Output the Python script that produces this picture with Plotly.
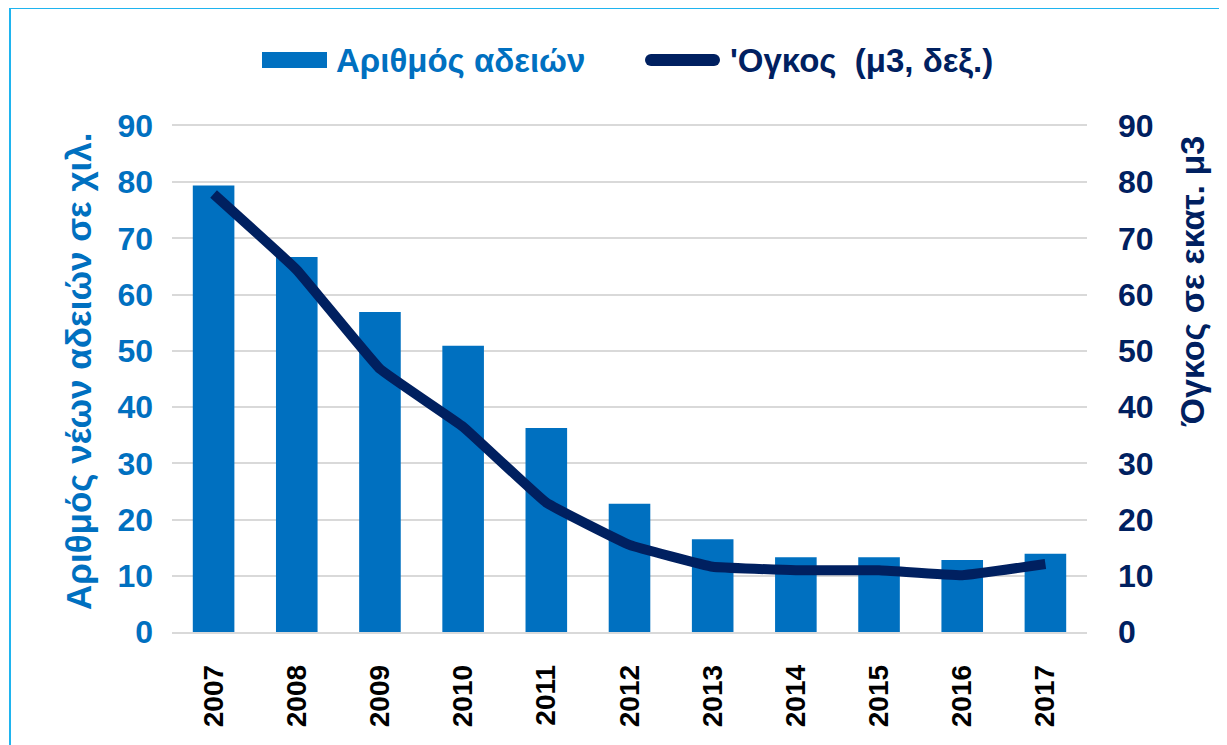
import plotly.graph_objects as go

years = ["2007", "2008", "2009", "2010", "2011", "2012", "2013", "2014", "2015", "2016", "2017"]
permits = [79.4, 66.7, 56.9, 50.9, 36.3, 22.8, 16.5, 13.3, 13.3, 12.8, 13.9]
volume = [77.9, 64.4, 46.8, 36.5, 23.0, 15.5, 11.6, 11.0, 11.0, 10.1, 12.1]
yticks = [0, 10, 20, 30, 40, 50, 60, 70, 80, 90]
bar_name = "Αριθμός αδειών"
line_name = "'Ογκος  (μ3, δεξ.)"

BLUE = "#0070C0"
NAVY = "#002060"
GRID = "#d9d9d9"
FONT = "Liberation Sans, Arial, sans-serif"

W, H = 1227, 745
OFF = 8  # page body margin
ml, mr, mt, mb = 164, 148, 118, 121
pw, ph = W - ml - mr, H - mt - mb

def px(x):  # page x -> paper
    return (x - OFF - ml) / pw

def py(y):  # page y -> paper
    return (H - mb - (y - OFF)) / ph

fig = go.Figure()
fig.add_trace(go.Bar(x=years, y=permits, name=bar_name,
                     marker=dict(color=BLUE, line=dict(width=0)), yaxis="y", showlegend=False))
fig.add_trace(go.Scatter(x=years, y=volume, name=line_name,
                         mode="lines", line=dict(color=NAVY, width=10, shape="spline", smoothing=0.25),
                         yaxis="y2", showlegend=False))

fig.update_layout(
    width=W, height=H,
    margin=dict(l=ml, r=mr, t=mt, b=mb),
    paper_bgcolor="white", plot_bgcolor="white",
    bargap=0.5,
    font=dict(family=FONT),
    showlegend=False,
    xaxis=dict(type="category", tickangle=-90, showgrid=False,
               showline=True, linecolor=GRID, linewidth=1.5, mirror=True,
               tickfont=dict(size=28, color="black", family=FONT, weight="bold"),
               ticks="", ticklabelstandoff=20),
    yaxis=dict(range=[0, 90], tickvals=yticks, showgrid=True, gridcolor=GRID, gridwidth=1.5,
               zeroline=False, showline=False, ticks="",
               tickfont=dict(size=32, color=BLUE, family=FONT, weight="bold"),
               ticklabelstandoff=18),
    yaxis2=dict(range=[0, 90], tickvals=yticks, overlaying="y", side="right", showgrid=False,
                zeroline=False, showline=False, ticks="",
                tickfont=dict(size=32, color=NAVY, family=FONT, weight="bold"),
                ticklabelstandoff=30),
)

# legend (drawn manually to match wide symbols)
ly = 60
fig.add_shape(type="rect", xref="paper", yref="paper",
              x0=px(262), x1=px(327), y0=py(ly + 8), y1=py(ly - 8),
              fillcolor=BLUE, line=dict(width=0))
fig.add_annotation(text=bar_name, xref="paper", yref="paper", x=px(334), y=py(ly),
                   xanchor="left", yanchor="middle", showarrow=False,
                   font=dict(size=33, color=BLUE, family=FONT, weight="bold"))
fig.add_shape(type="line", xref="paper", yref="paper",
              x0=px(651), x1=px(714), y0=py(ly), y1=py(ly),
              line=dict(color=NAVY, width=12))
for cx in (651, 714):
    fig.add_shape(type="circle", xref="paper", yref="paper",
                  x0=px(cx - 6), x1=px(cx + 6), y0=py(ly + 6), y1=py(ly - 6),
                  fillcolor=NAVY, line=dict(width=0))
fig.add_annotation(text=line_name, xref="paper", yref="paper", x=px(728), y=py(ly),
                   xanchor="left", yanchor="middle", showarrow=False,
                   font=dict(size=33, color=NAVY, family=FONT, weight="bold"))

# axis titles as annotations
fig.add_annotation(text="Αριθμός νέων αδειών σε χιλ.", textangle=-90,
                   xref="paper", yref="paper", x=px(78), y=py(372),
                   showarrow=False, xanchor="center", yanchor="middle",
                   font=dict(size=35, color=BLUE, family=FONT, weight="bold"))
fig.add_annotation(text="Όγκος σε εκατ. μ3", textangle=-90,
                   xref="paper", yref="paper", x=px(1192), y=py(282),
                   showarrow=False, xanchor="center", yanchor="middle",
                   font=dict(size=34, color=NAVY, family=FONT, weight="bold"))

# light blue frame
fig.add_shape(type="line", xref="paper", yref="paper", x0=px(10), x1=px(1240), y0=py(8), y1=py(8),
              line=dict(color="#1FB4EF", width=2))
fig.add_shape(type="line", xref="paper", yref="paper", x0=px(10), x1=px(10), y0=py(8), y1=py(760),
              line=dict(color="#1FB4EF", width=2))

fig.write_html("out.html")
